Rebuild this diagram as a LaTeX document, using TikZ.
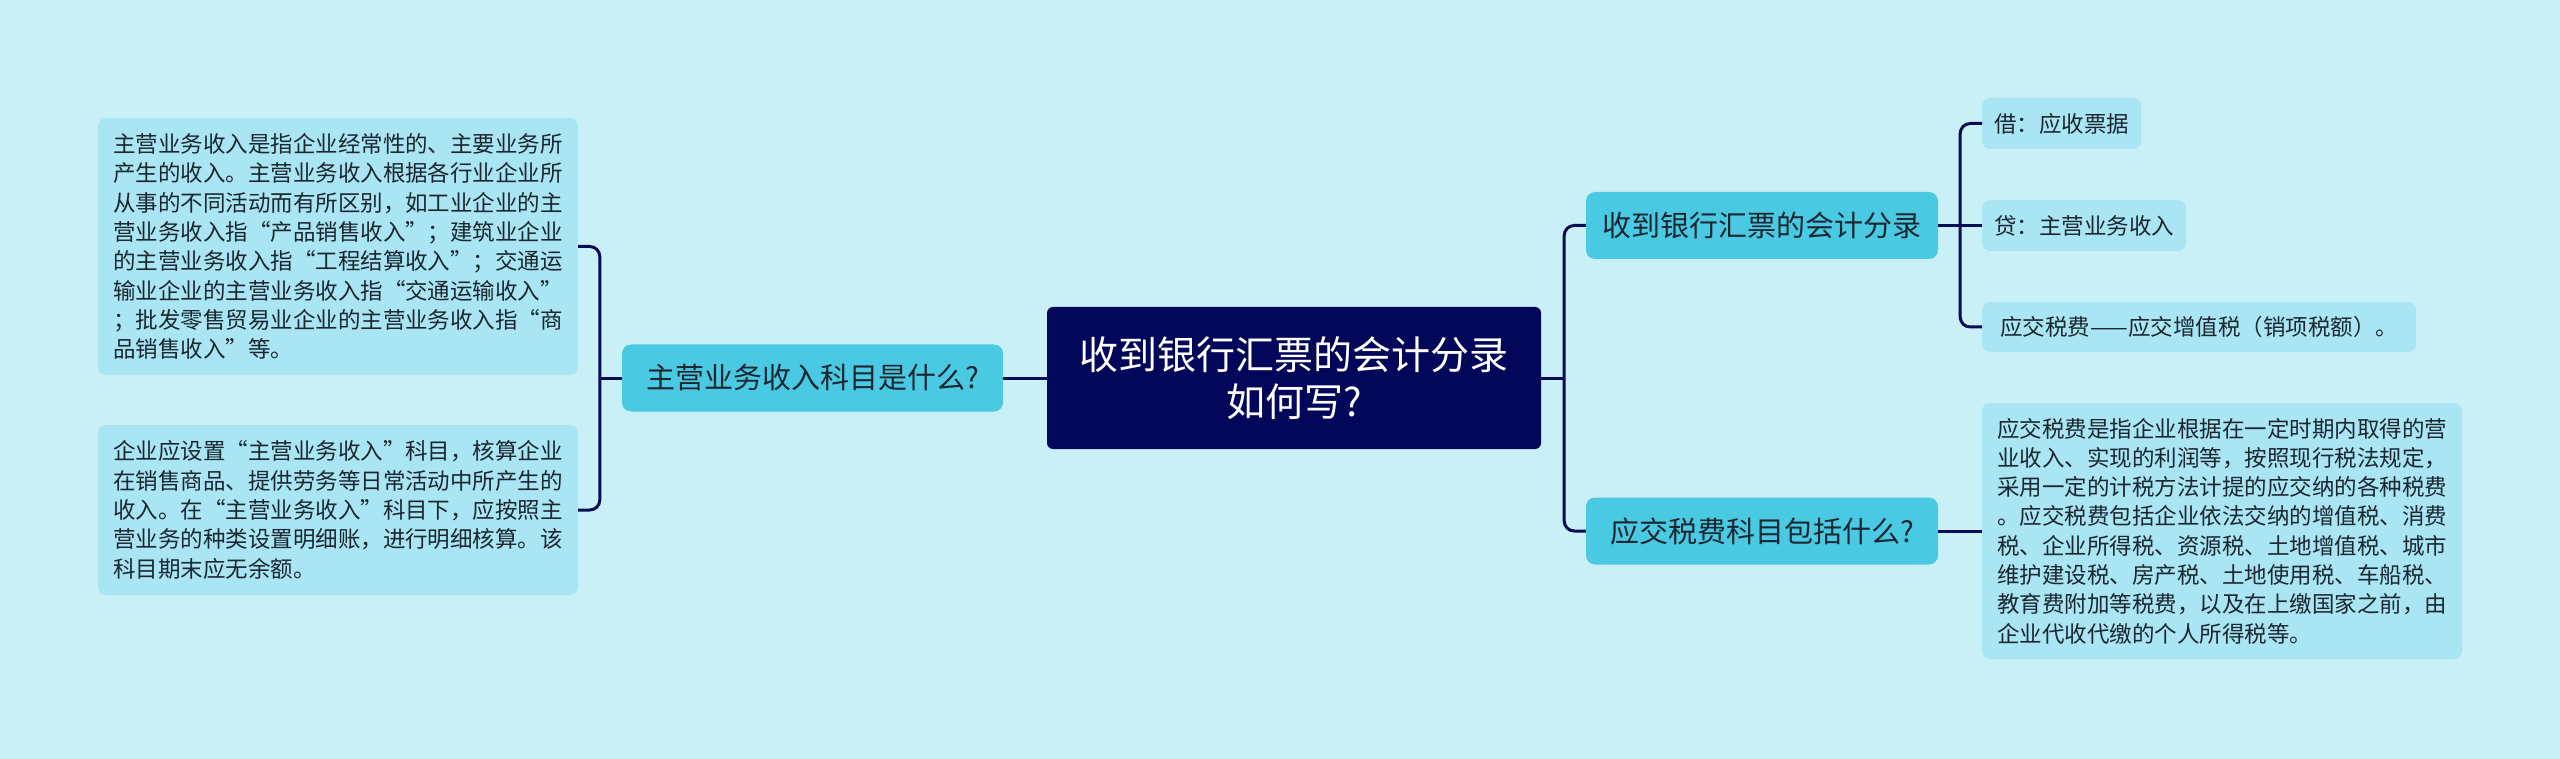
\documentclass[tikz,border=0pt]{standalone}
\usepackage{fontspec}
\setmainfont{Noto Sans CJK SC}
\definecolor{bgcyan}{HTML}{C9F0F7}
\definecolor{rootblue}{HTML}{03075A}
\definecolor{midcyan}{HTML}{4AC9E3}
\definecolor{leafcyan}{HTML}{A9E5F3}
\definecolor{linknavy}{HTML}{0A0B57}
\definecolor{inkdark}{HTML}{1A2630}
\begin{document}
\begin{tikzpicture}[x=1pt, y=-1pt,
			root/.style={draw=none, fill=rootblue, text=white, rounded corners=6pt, align=center,
				minimum width=494pt, minimum height=142pt, font=\fontsize{39}{47}\selectfont},
			topic/.style={draw=none, fill=midcyan, text=inkdark, rounded corners=9pt, inner xsep=16pt,
				minimum height=67pt, font=\fontsize{29}{34}\selectfont},
			leaf/.style={draw=none, fill=leafcyan, text=inkdark, rounded corners=8pt, align=left,
				inner xsep=12pt, font=\fontsize{22.5}{29.3}\selectfont},
			link/.style={draw=linknavy, line width=3pt},
			elbow/.style={link, rounded corners=10pt},
		]
		\useasboundingbox[fill=bgcyan] (0, 0) rectangle (2560, 759);

		\node[root] (root) at (1294, 378) {收到银行汇票的会计分录\\如何写?};

		\node[topic, minimum width=381pt] (q1) at (812.5, 378) {主营业务收入科目是什么?};
		\node[topic, minimum width=352pt] (r1) at (1762, 225.5) {收到银行汇票的会计分录};
		\node[topic, minimum width=352pt] (r2) at (1762, 531) {应交税费科目包括什么?};

		\node[leaf, minimum width=480pt, minimum height=257pt] (l1) at (338, 246.5) {%
			主营业务收入是指企业经常性的、主要业务所\\
			产生的收入。主营业务收入根据各行业企业所\\
			从事的不同活动而有所区别，如工业企业的主\\
			营业务收入指“产品销售收入”；建筑业企业\\
			的主营业务收入指“工程结算收入”；交通运\\
			输业企业的主营业务收入指“交通运输收入”\\
			；批发零售贸易业企业的主营业务收入指“商\\
			品销售收入”等。};
		\node[leaf, minimum width=480pt, minimum height=170pt] (l2) at (338, 510) {%
			企业应设置“主营业务收入”科目，核算企业\\
			在销售商品、提供劳务等日常活动中所产生的\\
			收入。在“主营业务收入”科目下，应按照主\\
			营业务的种类设置明细账，进行明细核算。该\\
			科目期末应无余额。};

		\node[leaf, anchor=west, minimum height=51pt] (d1) at (1982, 123.5) {借：应收票据};
		\node[leaf, anchor=west, minimum height=51pt] (d2) at (1982, 225.5) {贷：主营业务收入};
		\node[leaf, anchor=west, minimum height=50pt, minimum width=434pt] (d3) at (1982, 327) {应交税费——应交增值税（销项税额）。};
		\node[leaf, minimum width=480pt, minimum height=256pt] (d4) at (2222, 531) {%
			应交税费是指企业根据在一定时期内取得的营\\
			业收入、实现的利润等，按照现行税法规定，\\
			采用一定的计税方法计提的应交纳的各种税费\\
			。应交税费包括企业依法交纳的增值税、消费\\
			税、企业所得税、资源税、土地增值税、城市\\
			维护建设税、房产税、土地使用税、车船税、\\
			教育费附加等税费，以及在上缴国家之前，由\\
			企业代收代缴的个人所得税等。};

		% left branch
		\draw[link] (root.west) -- (q1.east);
		\draw[link] (q1.west) -- ++(-22, 0) coordinate (lj);
		\draw[elbow] (lj) |- (l1.east);
		\draw[elbow] (lj) |- (l2.east);

		% right branch
		\draw[link] (root.east) -- ++(23, 0) coordinate (rj);
		\draw[elbow] (rj) |- (r1.west);
		\draw[elbow] (rj) |- (r2.west);

		\draw[link] (r1.east) -- ++(22, 0) coordinate (dj);
		\draw[elbow] (dj) |- (d1.west);
		\draw[link] (dj) -- (d2.west);
		\draw[elbow] (dj) |- (d3.west);
		\draw[link] (r2.east) -- (d4.west);
	\end{tikzpicture}
\end{document}
